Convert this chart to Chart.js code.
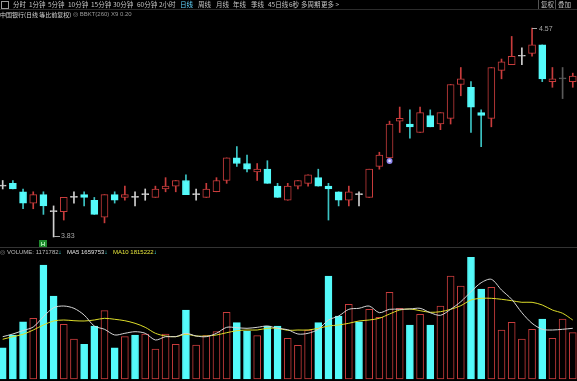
<!DOCTYPE html>
<html>
<head>
<meta charset="utf-8">
<script src="https://cdn.jsdelivr.net/npm/chart.js@4"></script>
<style>
  body { margin:0; background:#000; width:577px; height:381px; overflow:hidden; position:relative; }
  canvas { position:absolute; left:0; }
  .t { position:absolute; white-space:nowrap; font-family:"Noto Sans CJK SC", sans-serif; font-size:6.5px; line-height:9px; color:#c4c4c4; }
  .n { font-family:"Liberation Sans", Arial, sans-serif; font-size:6px; }
  .ln { position:absolute; left:0; width:577px; height:1px; background:#2c2c2c; }
</style>
</head>
<body>
<canvas id="price" width="577" height="248" style="top:0"></canvas>
<canvas id="vol" width="577" height="133" style="top:248px"></canvas>

<!-- menu bar -->
<div class="t" style="left:1px;top:1px;width:6px;height:6px;border:1px solid #9a9a9a;"></div>
<div class="t" style="left:13px;top:0">分时</div>
<div class="t" style="left:29px;top:0">1分钟</div>
<div class="t" style="left:48px;top:0">5分钟</div>
<div class="t" style="left:68px;top:0">10分钟</div>
<div class="t" style="left:91px;top:0">15分钟</div>
<div class="t" style="left:113px;top:0">30分钟</div>
<div class="t" style="left:137px;top:0">60分钟</div>
<div class="t" style="left:159px;top:0">2小时</div>
<div class="t" style="left:180px;top:0;color:#62d6ff">日线</div>
<div class="t" style="left:198px;top:0">周线</div>
<div class="t" style="left:216px;top:0">月线</div>
<div class="t" style="left:233px;top:0">年线</div>
<div class="t" style="left:251px;top:0">季线</div>
<div class="t" style="left:268px;top:0">45日线</div>
<div class="t" style="left:289px;top:0">6秒</div>
<div class="t" style="left:301px;top:0">多周期</div>
<div class="t" style="left:321px;top:0">更多 &gt;</div>
<div class="t" style="left:538px;top:0;border-left:1px solid #555;padding-left:2px">复权</div>
<div class="t" style="left:555px;top:0;border-left:1px solid #555;padding-left:2px">叠加</div>
<div class="ln" style="top:9px"></div>

<!-- title line -->
<div class="t" style="left:0;top:10px;color:#d4d4d4;font-size:6px">中国银行(日线 等比前复权)</div>
<div class="t n" style="left:73px;top:10px;color:#9a9a9a">◎ BBKT(260) X9 0.20</div>

<!-- volume header -->
<div class="ln" style="top:247px;background:#333"></div>
<div class="t n" style="left:0;top:248px;color:#8a8a8a">◎</div>
<div class="t n" style="left:7px;top:248px;color:#bdbdbd">VOLUME: 1171782<span style="color:#4ff">↓</span></div>
<div class="t n" style="left:67px;top:248px;color:#e0e0e0">MA5 1659753<span style="color:#4ff">↓</span></div>
<div class="t n" style="left:113px;top:248px;color:#e4e43c">MA10 1815222<span style="color:#4ff">↓</span></div>

<script>
const opens  = [4.01,4.02,3.99,3.95,3.98,3.92,3.92,3.97,3.98,3.96,3.90,3.98,3.97,3.97,3.98,3.97,4.00,4.01,4.03,3.98,
                3.97,3.99,4.03,4.11,4.09,4.06,4.07,4.01,3.96,4.01,4.02,4.04,4.01,3.99,3.96,3.98,3.97,4.08,4.11,4.24,
                4.23,4.20,4.26,4.23,4.25,4.37,4.36,4.27,4.25,4.42,4.44,4.47,4.48,4.51,4.38,4.39,4.38];
const closes = [4.01,4.00,3.95,3.98,3.94,3.92,3.97,3.97,3.97,3.91,3.98,3.96,3.98,3.97,3.98,4.00,4.01,4.03,3.98,3.98,
                4.00,4.03,4.11,4.09,4.07,4.07,4.02,3.97,4.01,4.03,4.05,4.01,4.00,3.96,3.99,3.98,4.07,4.12,4.23,4.25,
                4.22,4.27,4.22,4.27,4.37,4.39,4.29,4.26,4.43,4.45,4.47,4.47,4.51,4.39,4.39,4.39,4.40];
const highs  = [4.03,4.03,4.00,3.99,3.99,3.94,3.97,3.99,3.99,3.97,3.98,3.99,4.01,3.99,4.00,4.01,4.04,4.03,4.05,4.00,
                4.02,4.04,4.11,4.15,4.12,4.09,4.10,4.02,4.02,4.03,4.05,4.07,4.02,3.99,4.01,3.99,4.07,4.13,4.24,4.29,
                4.28,4.29,4.28,4.27,4.37,4.43,4.38,4.28,4.43,4.46,4.54,4.50,4.57,4.51,4.43,4.43,4.41];
const lows   = [4.00,4.00,3.93,3.93,3.91,3.83,3.89,3.95,3.94,3.91,3.88,3.95,3.96,3.94,3.96,3.97,3.99,3.99,3.98,3.96,
                3.97,3.99,4.02,4.08,4.06,4.03,4.02,3.97,3.96,4.00,4.01,4.01,3.89,3.94,3.94,3.94,3.97,4.07,4.11,4.20,
                4.18,4.20,4.22,4.21,4.23,4.33,4.20,4.15,4.22,4.39,4.44,4.44,4.47,4.38,4.36,4.32,4.36];
const volumes = [792000,1114000,1450000,1536000,2885000,2101000,1384000,1012000,878000,1341000,
                 1729000,792000,1071000,1114000,1139000,759000,1139000,878000,1746000,860000,
                 1096000,1197000,1688000,1425000,1215000,1096000,1341000,1341000,1030000,853000,
                 1240000,1425000,2607000,1594000,1890000,1450000,1764000,1562000,2194000,1789000,
                 1367000,1637000,1367000,1847000,2607000,2354000,3080000,2278000,2321000,1240000,
                 1435000,1012000,1258000,1518000,1030000,1518000,1171782];
const ma5  = [1071,1139,1227,1316,1577,1804,1847,1789,1620,1341,1258,1114,1157,1197,1157,987,1071,1071,1157,1088,
              1071,1157,1308,1298,1283,1308,1341,1283,1248,1139,1157,1258,1493,1594,1764,1789,1847,1678,1764,1764,
              1772,1789,1678,1612,1764,1956,2209,2437,2523,2252,2017,1678,1410,1258,1240,1258,1283].map(v => v * 1000);
const ma10 = [1005,1071,1131,1240,1367,1468,1493,1475,1468,1493,1536,1511,1475,1410,1308,1157,1088,1071,1131,1088,
              1088,1114,1172,1222,1240,1240,1283,1283,1232,1240,1240,1283,1341,1367,1410,1468,1493,1536,1645,1746,
              1772,1729,1688,1703,1764,1855,1999,2042,2042,2017,1982,1941,1941,1873,1746,1663,1493].map(v => v * 1000);
const buySignals = [38];
const bottomMarks = [4];

const RED = '#c83c3c', CYAN = '#54fafa', WHITE = '#d0d0d0';
const dimIdx = 55;

// up / down / flat for each day
const dir = closes.map((c, i) => c > opens[i] ? 1 : c < opens[i] ? -1 : 0);
const volUp = closes.map((c, i) => dir[i] === 1 || (dir[i] === 0 && i > 0 && c >= closes[i - 1]));

const bodyFill = dir.map((d, i) => d === 1 ? '#000' : d === -1 ? CYAN : (i === dimIdx ? '#5a5a5a' : WHITE));
const bodyLine = dir.map((d, i) => d === 1 ? RED : d === -1 ? CYAN : (i === dimIdx ? '#5a5a5a' : WHITE));
const wickCol  = dir.map((d, i) => d === 1 ? RED : d === -1 ? '#3cc4c4' : (i === dimIdx ? '#5a5a5a' : WHITE));

const xMin = -0.265, xMax = 56.415;
const xAxis = {type: 'linear', min: xMin, max: xMax, offset: false, display: false};

const markPlugin = {
  id: 'marks',
  afterDatasetsDraw(chart) {
    const {ctx, chartArea, scales: {x, y}} = chart;
    ctx.save();
    ctx.font = '7px "Liberation Sans", Arial, sans-serif';
    ctx.fillStyle = '#a8a8a8';
    ctx.strokeStyle = '#a8a8a8';
    ctx.lineWidth = 1;
    ctx.textBaseline = 'middle';
    // lowest low
    const lo = Math.min(...lows), iLo = lows.indexOf(lo);
    let px = Math.round(x.getPixelForValue(iLo)), py = Math.round(y.getPixelForValue(lo)) - 0.5;
    ctx.beginPath(); ctx.moveTo(px, py); ctx.lineTo(px + 6, py); ctx.stroke();
    ctx.fillText(lo.toFixed(2), px + 7, py);
    // highest high
    const hi = Math.max(...highs), iHi = highs.indexOf(hi);
    px = Math.round(x.getPixelForValue(iHi)); py = Math.round(y.getPixelForValue(hi)) + 0.5;
    ctx.beginPath(); ctx.moveTo(px, py); ctx.lineTo(px + 5, py); ctx.stroke();
    ctx.fillText(hi.toFixed(2), px + 7, py + 1);
    // buy signal
    buySignals.forEach(i => {
      const cx = x.getPixelForValue(i), cy = y.getPixelForValue(lows[i]) + 3;
      ctx.fillStyle = '#8f86ee';
      ctx.beginPath(); ctx.arc(cx, cy, 3, 0, Math.PI * 2); ctx.fill();
      ctx.fillStyle = '#e8e8ff';
      ctx.beginPath(); ctx.arc(cx, cy, 1.3, 0, Math.PI * 2); ctx.fill();
    });
    // green marks at panel bottom
    bottomMarks.forEach(i => {
      const cx = Math.round(x.getPixelForValue(i));
      ctx.fillStyle = '#1f8a2e';
      ctx.fillRect(cx - 4, chartArea.bottom - 8, 8, 8);
      ctx.fillStyle = '#9be2a4';
      ctx.fillRect(cx - 2, chartArea.bottom - 6, 1, 4);
      ctx.fillRect(cx + 1, chartArea.bottom - 6, 1, 4);
      ctx.fillRect(cx - 2, chartArea.bottom - 4, 4, 1);
    });
    ctx.restore();
  }
};

new Chart(document.getElementById('price'), {
  type: 'bar',
  data: {
    datasets: [
      {
        data: opens.map((o, i) => ({x: i, y: [o, closes[i]]})),
        backgroundColor: bodyFill, borderColor: bodyLine, borderWidth: 1,
        barThickness: 7, minBarLength: 1, grouped: false, borderSkipped: false, order: 1
      },
      {
        data: lows.map((l, i) => ({x: i, y: [l, highs[i]]})),
        backgroundColor: wickCol, borderWidth: 0,
        barThickness: 1, grouped: false, order: 2
      }
    ]
  },
  options: {
    animation: false, responsive: false, devicePixelRatio: 1,
    layout: {padding: 0},
    plugins: {legend: {display: false}, tooltip: {enabled: false}},
    scales: {
      x: xAxis,
      y: {min: 3.791, max: 4.669, display: false}
    }
  },
  plugins: [markPlugin]
});

new Chart(document.getElementById('vol'), {
  type: 'bar',
  data: {
    datasets: [
      {
        type: 'line', data: ma5.map((v, i) => ({x: i, y: v})),
        borderColor: '#d6d6d6', borderWidth: 1, pointRadius: 0, tension: 0.3, order: 0
      },
      {
        type: 'line', data: ma10.map((v, i) => ({x: i, y: v})),
        borderColor: '#dede2a', borderWidth: 1, pointRadius: 0, tension: 0.3, order: 0
      },
      {
        data: volumes.map((v, i) => ({x: i, y: v})),
        backgroundColor: volUp.map(u => u ? '#000' : CYAN),
        borderColor: volUp.map(u => u ? RED : CYAN),
        borderWidth: 1, barThickness: 7, grouped: false, borderSkipped: false, order: 1
      }
    ]
  },
  options: {
    animation: false, responsive: false, devicePixelRatio: 1,
    layout: {padding: 0},
    plugins: {legend: {display: false}, tooltip: {enabled: false}},
    scales: {
      x: xAxis,
      y: {min: -50616, max: 3315348, display: false}
    }
  }
});
</script>
</body>
</html>
